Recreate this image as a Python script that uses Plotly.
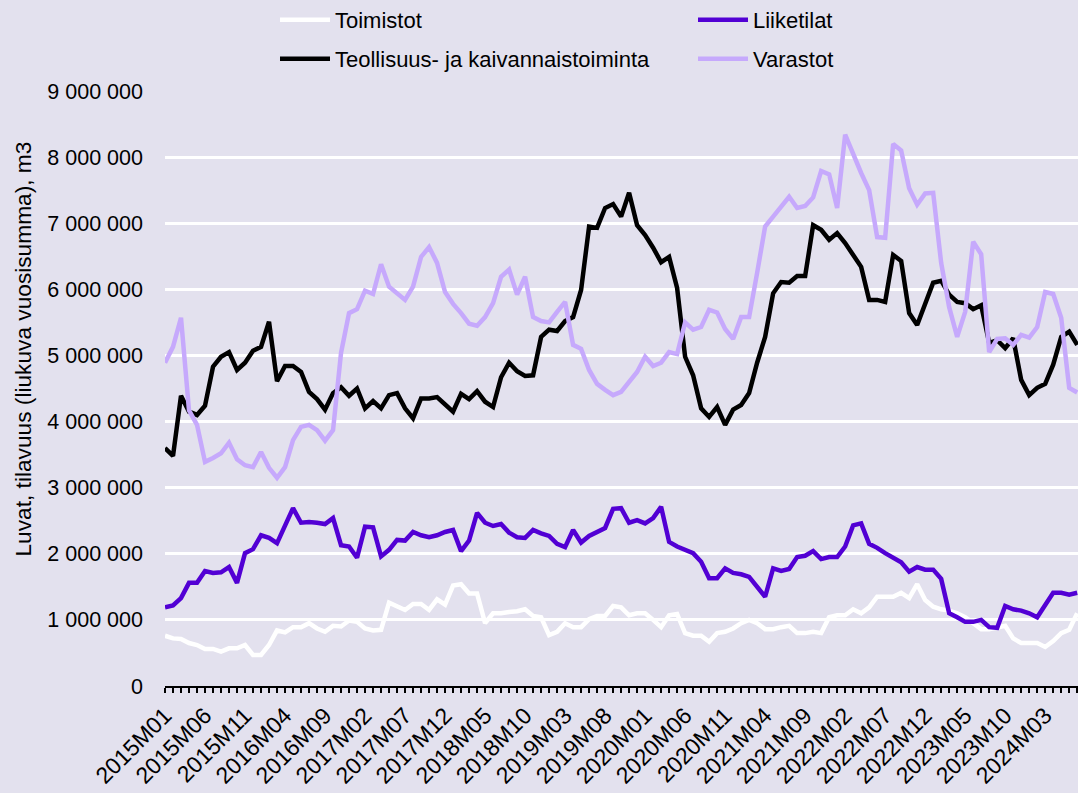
import plotly.graph_objects as go

# Monthly categories 2015M01 .. 2024M07
months = [f"{y}M{m:02d}" for y in range(2015, 2025) for m in range(1, 13)][:115]

# Rolling annual sums, million m3
toimistot = [
    0.76, 0.72, 0.71, 0.65, 0.62, 0.56, 0.56, 0.52, 0.57, 0.57,
    0.62, 0.47, 0.47, 0.62, 0.84, 0.81, 0.89, 0.89, 0.95, 0.87,
    0.82, 0.91, 0.90, 0.99, 0.97, 0.87, 0.84, 0.85, 1.26, 1.21,
    1.15, 1.24, 1.24, 1.15, 1.31, 1.23, 1.52, 1.54, 1.40, 1.40,
    0.95, 1.10, 1.10, 1.12, 1.13, 1.16, 1.06, 1.04, 0.77, 0.82,
    0.95, 0.89, 0.89, 1.01, 1.06, 1.06, 1.21, 1.19, 1.07, 1.10,
    1.10, 1.00, 0.89, 1.07, 1.09, 0.80, 0.76, 0.76, 0.67, 0.80,
    0.82, 0.87, 0.95, 1.00, 0.95, 0.86, 0.86, 0.89, 0.91, 0.80,
    0.80, 0.82, 0.80, 1.04, 1.07, 1.07, 1.16, 1.10, 1.19, 1.35,
    1.35, 1.35, 1.41, 1.33, 1.54, 1.30, 1.20, 1.16, 1.14, 1.10,
    1.04, 0.95, 0.86, 0.86, 0.89, 0.91, 0.72, 0.65, 0.65, 0.65,
    0.59, 0.68, 0.80, 0.85, 1.10,
]
liiketilat = [
    1.19, 1.22, 1.33, 1.56, 1.56, 1.74, 1.71, 1.72, 1.80, 1.56,
    2.01, 2.07, 2.28, 2.24, 2.16, 2.41, 2.69, 2.47, 2.48, 2.47,
    2.45, 2.54, 2.13, 2.11, 1.94, 2.41, 2.40, 1.96, 2.06, 2.21,
    2.20, 2.33, 2.28, 2.25, 2.28, 2.33, 2.36, 2.04, 2.20, 2.62,
    2.47, 2.42, 2.45, 2.32, 2.25, 2.24, 2.36, 2.31, 2.27, 2.15,
    2.10, 2.36, 2.17, 2.27, 2.33, 2.39, 2.68, 2.69, 2.47, 2.51,
    2.46, 2.54, 2.71, 2.18, 2.11, 2.06, 2.01, 1.88, 1.63, 1.63,
    1.78, 1.71, 1.69, 1.65, 1.50, 1.35, 1.78, 1.74, 1.77, 1.95,
    1.97, 2.04, 1.92, 1.95, 1.95, 2.11, 2.43, 2.46, 2.15, 2.09,
    2.01, 1.94, 1.87, 1.73, 1.80, 1.76, 1.76, 1.62, 1.10, 1.04,
    0.97, 0.97, 1.00, 0.89, 0.88, 1.21, 1.16, 1.14, 1.10, 1.04,
    1.24, 1.41, 1.41, 1.38, 1.41,
]
teollisuus = [
    3.60, 3.48, 4.39, 4.15, 4.10, 4.24, 4.83, 4.98, 5.05, 4.78,
    4.89, 5.07, 5.13, 5.51, 4.61, 4.84, 4.84, 4.75, 4.45, 4.34,
    4.18, 4.43, 4.52, 4.39, 4.50, 4.20, 4.31, 4.20, 4.40, 4.43,
    4.20, 4.05, 4.35, 4.35, 4.37, 4.25, 4.15, 4.42, 4.34, 4.46,
    4.30, 4.22, 4.67, 4.89, 4.76, 4.69, 4.70, 5.28, 5.39, 5.37,
    5.52, 5.58, 5.99, 6.95, 6.93, 7.23, 7.29, 7.10, 7.46, 6.97,
    6.82, 6.63, 6.41, 6.49, 6.02, 4.98, 4.70, 4.20, 4.07, 4.22,
    3.95, 4.18, 4.25, 4.43, 4.89, 5.28, 5.94, 6.11, 6.10, 6.20,
    6.20, 6.97, 6.90, 6.75, 6.85, 6.70, 6.52, 6.34, 5.84, 5.84,
    5.81, 6.52, 6.43, 5.64, 5.46, 5.79, 6.10, 6.13, 5.92, 5.81,
    5.79, 5.70, 5.76, 5.19, 5.23, 5.11, 5.26, 4.63, 4.40, 4.51,
    4.57, 4.86, 5.28, 5.36, 5.16,
]
varastot = [
    4.89, 5.13, 5.57, 4.17, 3.95, 3.39, 3.45, 3.52, 3.68, 3.43,
    3.34, 3.31, 3.54, 3.30, 3.15, 3.31, 3.72, 3.92, 3.95, 3.87,
    3.71, 3.87, 5.04, 5.64, 5.70, 5.98, 5.93, 6.38, 6.04, 5.94,
    5.84, 6.04, 6.49, 6.64, 6.40, 5.96, 5.78, 5.64, 5.48, 5.45,
    5.58, 5.79, 6.19, 6.30, 5.92, 6.19, 5.58, 5.52, 5.50, 5.66,
    5.81, 5.16, 5.10, 4.78, 4.57, 4.48, 4.40, 4.45, 4.60, 4.75,
    4.98, 4.84, 4.89, 5.05, 5.02, 5.50, 5.39, 5.43, 5.69, 5.65,
    5.40, 5.25, 5.58, 5.58, 6.25, 6.95, 7.10, 7.25, 7.40, 7.23,
    7.26, 7.39, 7.79, 7.74, 7.23, 8.34, 8.03, 7.76, 7.50, 6.79,
    6.78, 8.20, 8.10, 7.53, 7.28, 7.45, 7.46, 6.40, 5.73, 5.28,
    5.66, 6.72, 6.53, 5.05, 5.25, 5.26, 5.16, 5.31, 5.27, 5.43,
    5.96, 5.93, 5.57, 4.51, 4.44,
]

series = [
    ("Toimistot", toimistot, "#FFFFFF", "legend"),
    ("Liiketilat", liiketilat, "#5200D4", "legend"),
    ("Teollisuus- ja kaivannaistoiminta", teollisuus, "#000000", "legend2"),
    ("Varastot", varastot, "#C6A9FC", "legend2"),
]

FONT = "Liberation Sans, Arial, sans-serif"
BG = "#E3E1EE"
W, H = 1078, 793
L, T, B = 165, 91, 107

x_idx = list(range(len(months)))

fig = go.Figure()
for name, vals, color, leg in series:
    fig.add_trace(go.Scatter(
        x=x_idx,
        y=[v * 1e6 for v in vals],
        name=name,
        mode="lines",
        line=dict(color=color, width=4.5),
        legend=leg,
        customdata=months,
        hovertemplate="%{customdata}: %{y:,.0f}<extra>" + name + "</extra>",
    ))

legend_common = dict(
    orientation="h",
    xref="container", yref="container",
    xanchor="left", yanchor="middle",
    x=275 / W,
    entrywidth=353,
    font=dict(family=FONT, size=22, color="black"),
    bgcolor="rgba(0,0,0,0)",
    itemwidth=50,
)

plot_w = W - L
plot_h = H - T - B

fig.update_layout(
    width=W,
    height=H,
    paper_bgcolor=BG,
    plot_bgcolor=BG,
    separators=", ",
    font=dict(family=FONT, size=21, color="black"),
    margin=dict(l=L, r=0, t=T, b=B),
    legend=dict(legend_common, y=1 - 20 / H),
    legend2=dict(legend_common, y=1 - 59 / H),
    xaxis=dict(
        automargin=False,
        range=[0, 114.1],
        tickmode="array",
        tickvals=x_idx[::5],
        ticktext=months[::5],
        tickangle=-45,
        ticks="outside",
        ticklen=5,
        tickwidth=1.5,
        tickcolor="black",
        minor=dict(dtick=1, tick0=0, ticks="outside", ticklen=5,
                   tickwidth=1.5, tickcolor="black"),
        showline=True,
        linecolor="black",
        linewidth=2,
        showgrid=False,
        zeroline=False,
        tickfont=dict(size=23),
    ),
    yaxis=dict(
        automargin=False,
        range=[0, 9e6],
        dtick=1e6,
        tickformat=",d",
        showgrid=True,
        gridcolor="white",
        gridwidth=2.5,
        zeroline=False,
        showline=False,
        ticks="",
        ticklabelstandoff=21,
        tickfont=dict(size=21.5),
    ),
    annotations=[dict(
        text="Luvat, tilavuus (liukuva vuosisumma), m3",
        xref="paper", yref="paper",
        x=(22 - L) / plot_w, y=(H - B - 349.5) / plot_h,
        xanchor="center", yanchor="middle",
        textangle=-90, showarrow=False,
        font=dict(family=FONT, size=22.7, color="black"),
    )],
)

# drop the default page margin so the figure fills the window exactly
fig.write_html(
    "out.html",
    config={"displayModeBar": False},
    post_script="document.body.style.margin='0';document.body.style.overflow='hidden';",
)
